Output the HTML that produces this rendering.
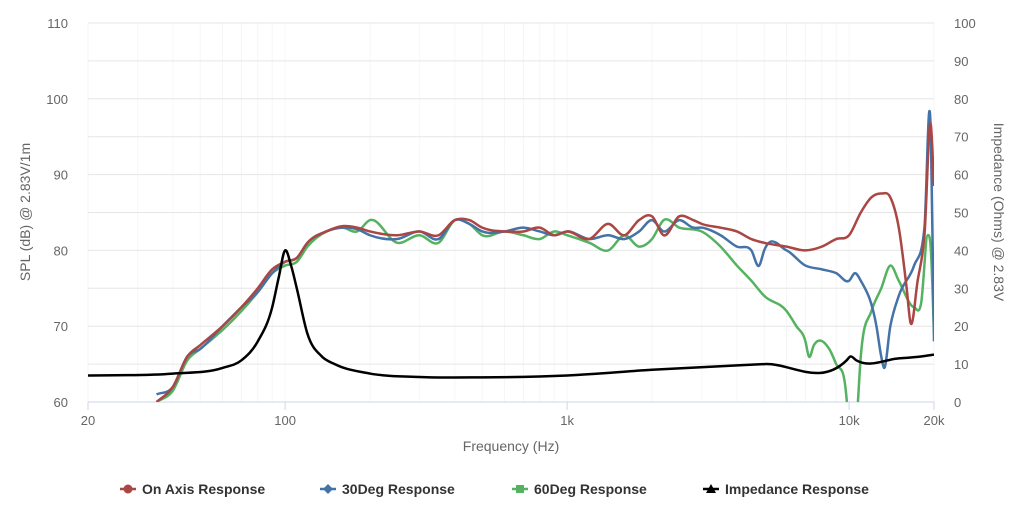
<!DOCTYPE html>
<html><head><meta charset="utf-8"><style>
body{margin:0;background:#fff;font-family:"Liberation Sans",sans-serif}
svg text{font-family:"Liberation Sans",sans-serif}
</style></head><body>
<svg id="chart" width="1024" height="515" xmlns="http://www.w3.org/2000/svg">
<defs><clipPath id="plotclip"><rect x="88" y="23" width="846" height="379"/></clipPath></defs>
<g id="grid"></g>
<g id="axes"></g>
<g id="series" clip-path="url(#plotclip)"></g>
<text x="30" y="212" transform="rotate(-90 30 212)" text-anchor="middle" font-size="14" fill="#666">SPL (dB) @ 2.83V/1m</text>
<text x="994" y="212" transform="rotate(90 994 212)" text-anchor="middle" font-size="14" fill="#666">Impedance (Ohms) @ 2.83V</text>
<text x="511" y="451" text-anchor="middle" font-size="14" fill="#666">Frequency (Hz)</text>
<g id="legend"></g>
</svg>
<script>
const NS="http://www.w3.org/2000/svg";
const xTicks=[20,100,1000,10000,20000];
const xTickLabels=["20","100","1k","10k","20k"];
const yTicks=[60,70,80,90,100,110];
const y2Ticks=[0,10,20,30,40,50,60,70,80,90,100];
const onAxisF=[35,40,45,50,60,70,80,90,100,110,120,140,160,180,200,250,300,350,400,450,500,600,700,800,900,1000,1200,1400,1600,1800,2000,2200,2500,2800,3000,3500,4000,4500,5000,6000,7000,8000,9000,10000,11000,12000,13000,14000,15000,16000,16500,17500,18500,19500,20000];
const onAxisDb=[60,62,66,67.5,70,72.5,75,77.5,78.5,79,81,82.5,83.2,83,82.5,82,82.5,82,84,84,83,82.5,82.5,83,82,82.5,81.5,83.5,82,84,84.5,82,84.5,84,83.5,83,82.5,81.5,81,80.5,80,80.5,81.5,82,85,87,87.5,87,83,75,70.5,76,82,96.5,88.5];
const deg30F=[35,40,45,50,60,70,80,90,100,110,120,140,160,180,200,250,300,350,400,450,500,600,700,800,900,1000,1200,1400,1600,1800,2000,2200,2500,2800,3000,3500,4000,4500,4800,5000,6000,7000,8000,9000,10000,10500,11000,12500,13000,13300,14000,15000,17000,18500,19500,20000];
const deg30Db=[61,62,66,67,70,72.5,74.5,77,78.5,79,81,82.5,83,82.8,82,81.5,82.5,81.5,84,83.5,82.5,82.5,83,82.5,82,82.5,81.5,82,81.5,82.5,84,82.5,84,83,83,82,80.5,80,78,80,80,78,77.5,77,76,77,76,70,66,64.5,70,74,78,83,95,68];
const deg60F=[35,40,45,50,60,70,80,90,100,110,120,140,160,180,200,250,300,350,400,450,500,600,700,800,900,1000,1200,1400,1600,1800,2000,2200,2500,3000,3500,4000,4500,5000,6000,6500,7000,7200,7500,8500,9000,9700,10000,10300,10600,11000,12000,13000,14000,15000,17000,18000,19000,19500,20000];
const deg60Db=[60,61.5,65.5,67,69.5,72,74.5,77,78,78.5,80.5,82.5,83,82.5,84,81,82,81,84,83.5,82,82.5,82,81.5,82.5,82,81,80,82,80.5,81.5,84,83,82.5,80.5,78,76,74,72,70,68,66,67.5,67,65,62,57,55,57,66,72,75,78,76,72.5,73,82,80,69];
const impF=[20,40,60,70,80,90,95,100,105,110,120,135,150,200,300,500,1000,2000,5000,9800,10100,10600,15000,18000,20000];
const impOhm=[7,7.5,9,11,16,25,33,40,36,30,18,12,10,7.5,6.6,6.5,7,8.5,10,11,12,11,11.5,12,12.5];

const X0=88,X1=934,Y0=402,Y1=23;
const lx=f=>X0+(Math.log10(f)-Math.log10(20))/(Math.log10(20000)-Math.log10(20))*(X1-X0);
const ly=v=>Y0-(v-60)/50*(Y0-Y1);
const ly2=v=>Y0-v/100*(Y0-Y1);
function mk(tag,attrs,parent){const e=document.createElementNS(NS,tag);for(const k in attrs)e.setAttribute(k,attrs[k]);parent.appendChild(e);return e;}
const grid=document.getElementById('grid'),axes=document.getElementById('axes'),series=document.getElementById('series'),legend=document.getElementById('legend');
for(let d=10;d<=10000;d*=10)for(let m=1;m<10;m++){const f=d*m;if(f<20||f>20000)continue;const x=lx(f);
 const l=mk('line',{x1:x,x2:x,y1:Y1,y2:Y0,stroke:'#f6f6f6','stroke-width':1},grid);
 
 }
for(let v=60;v<=110;v+=5){const y=ly(v);
 const l=mk('line',{x1:X0,x2:X1,y1:y,y2:y,stroke:'#e6e6e6','stroke-width':1},grid);
 
 }
mk('line',{x1:X0,x2:X1,y1:Y0,y2:Y0,stroke:'#ccd6eb','stroke-width':1},axes);
xTicks.forEach((f,i)=>{const x=lx(f);
 const t=mk('line',{x1:x,x2:x,y1:Y0,y2:Y0+8,stroke:'#ccd6eb'},axes);
 
 
 const tx=mk('text',{x:x,y:Y0+23,'text-anchor':'middle','font-size':13,fill:'#666'},axes);tx.textContent=xTickLabels[i];
 
 });
yTicks.forEach(v=>{const tx=mk('text',{x:68,y:ly(v)+5,'text-anchor':'end','font-size':13,fill:'#666'},axes);tx.textContent=v;
 
 });
y2Ticks.forEach(v=>{const tx=mk('text',{x:954,y:ly2(v)+5,'text-anchor':'start','font-size':13,fill:'#666'},axes);tx.textContent=v;
 
 });
function smooth(pts){let d='M'+pts[0][0]+','+pts[0][1];
 const n=pts.length,m=[];
 for(let i=0;i<n;i++){
  if(i===0||i===n-1){const a=pts[Math.max(0,i-1)],b=pts[Math.min(n-1,i+1)];m.push((b[1]-a[1])/((b[0]-a[0])||1));continue;}
  const s0=(pts[i][1]-pts[i-1][1])/((pts[i][0]-pts[i-1][0])||1e-6),s1=(pts[i+1][1]-pts[i][1])/((pts[i+1][0]-pts[i][0])||1e-6);
  const h0=pts[i][0]-pts[i-1][0],h1=pts[i+1][0]-pts[i][0];
  m.push((s0*h1+s1*h0)/((h0+h1)||1));}
 for(let i=0;i<n-1;i++){const p1=pts[i],p2=pts[i+1],h=(p2[0]-p1[0])/3;
  d+='C'+(p1[0]+h)+','+(p1[1]+m[i]*h)+' '+(p2[0]-h)+','+(p2[1]-m[i+1]*h)+' '+p2[0]+','+p2[1];}
 return d;}
function draw(fs,vs,yf,color,name){const p=mk('path',{d:smooth(fs.map((f,i)=>[lx(f),yf(vs[i])])),fill:'none',stroke:color,'stroke-width':2.5,'stroke-linejoin':'round'},series);
 
 }
draw(deg60F,deg60Db,ly,'#55b260','series-60deg');
draw(deg30F,deg30Db,ly,'#4572a7','series-30deg');
draw(onAxisF,onAxisDb,ly,'#aa4643','series-on-axis');
draw(impF,impOhm,ly2,'#000','series-impedance');
const items=[["On Axis Response","#aa4643","circle",120],["30Deg Response","#4572a7","diamond",320],["60Deg Response","#55b260","square",512],["Impedance Response","#000","triangle",703]];
items.forEach(([t,c,s,x])=>{const g=mk('g',{},legend);
 
 
 mk('line',{x1:x,x2:x+16,y1:489,y2:489,stroke:c,'stroke-width':2.5},g);
 const cx=x+8,cy=489;
 if(s==='circle')mk('circle',{cx,cy,r:4.5,fill:c},g);
 if(s==='diamond')mk('polygon',{points:`${cx},${cy-5} ${cx+5},${cy} ${cx},${cy+5} ${cx-5},${cy}`,fill:c},g);
 if(s==='square')mk('rect',{x:cx-4,y:cy-4,width:8,height:8,fill:c},g);
 if(s==='triangle')mk('polygon',{points:`${cx},${cy-5} ${cx+5},${cy+4} ${cx-5},${cy+4}`,fill:c},g);
 const tx=mk('text',{x:x+22,y:494,'font-size':14,'font-weight':'bold',fill:'#333'},g);tx.textContent=t;});
</script>
</body></html>
